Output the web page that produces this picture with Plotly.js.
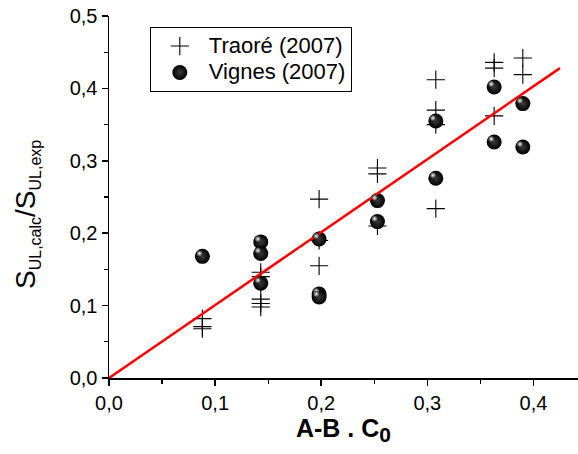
<!DOCTYPE html>
<html>
<head>
<meta charset="utf-8">
<script src="https://cdn.plot.ly/plotly-3.0.1.min.js"></script>
<style>html,body{margin:0;padding:0;background:#fff;}#chart{width:578px;height:454px;}</style>
</head>
<body>
<div id="chart"></div>
<script>
const traoreX = [0.088,0.088,0.088, 0.143,0.143,0.143,0.143,0.143, 0.198,0.198,0.198, 0.253,0.253,0.253, 0.308,0.308,0.308,0.308, 0.363,0.363,0.363, 0.39,0.39];
const traoreY = [0.082,0.071,0.068, 0.146,0.140,0.109,0.103,0.098, 0.247,0.190,0.155, 0.290,0.282,0.210, 0.412,0.370,0.350,0.234, 0.436,0.428,0.362, 0.442,0.419];
const vignesX = [0.088, 0.143,0.143,0.143, 0.198,0.198,0.198, 0.253,0.253, 0.308,0.308, 0.363,0.363, 0.39,0.39];
const vignesY = [0.168, 0.188,0.172,0.131, 0.192,0.116,0.112, 0.245,0.216, 0.355,0.276, 0.402,0.326, 0.379,0.319];
const fitX = [0, 0.425];
const fitY = [0, 0.428];
const tickVals = [0, 0.1, 0.2, 0.3, 0.4, 0.5];
const tickText = ['0,0','0,1','0,2','0,3','0,4','0,5'];
const seriesNames = ['Traoré (2007)', 'Vignes (2007)'];

const FONT = 'Arial, "Liberation Sans", sans-serif';
const X_RANGE = [0, 0.442];
const Y_RANGE = [0, 0.5];
// highlight offset (a few pixels up-left) expressed in axis units
const HX = 0.0027, HY = 0.0040;
const big = t => '<span style="font-size:22px">' + t + '</span>';

const traces = [
  {
    x: traoreX, y: traoreY, type: 'scatter', mode: 'markers', name: big(seriesNames[0]),
    marker: {symbol: 'cross-thin-open', size: 13, color: '#000', line: {color: '#000', width: 1.1}}
  },
  {
    x: vignesX, y: vignesY, type: 'scatter', mode: 'markers', name: big(seriesNames[1]),
    marker: {symbol: 'circle', size: 15, color: '#000', gradient: {type: 'radial', color: '#3a3a3a'}, line: {width: 0}}
  },
  {
    x: vignesX, y: vignesY, type: 'scatter', mode: 'markers', showlegend: false,
    xaxis: 'x2', yaxis: 'y2',
    marker: {symbol: 'circle', size: 6, color: '#333', gradient: {type: 'radial', color: '#f4f4f4'}, line: {width: 0}}
  },
  {
    x: fitX, y: fitY, type: 'scatter', mode: 'lines', showlegend: false,
    line: {color: '#ff0000', width: 2.5}
  }
];

const layout = {
  width: 578, height: 454,
  margin: {l: 109, r: 0, t: 16, b: 76},
  paper_bgcolor: '#fff', plot_bgcolor: '#fff',
  separators: ', ',
  font: {family: FONT, color: '#000', size: 20},
  showlegend: true,
  legend: {
    x: 0.087, y: 0.97, xanchor: 'left', yanchor: 'top',
    bgcolor: '#fff', bordercolor: '#000', borderwidth: 1,
    font: {family: FONT, size: 18, color: '#000'},
    itemwidth: 48, tracegroupgap: 0
  },
  xaxis: {
    range: X_RANGE, showgrid: false, zeroline: false,
    showline: true, linecolor: '#000', linewidth: 1.5,
    ticks: 'outside', ticklen: 6, tickwidth: 1.5, tickcolor: '#000',
    tickvals: tickVals.slice(0,5), ticktext: tickText.slice(0,5),
    tickfont: {family: FONT, size: 20},
    minor: {dtick: 0.05, ticklen: 4, tickwidth: 1.2, tickcolor: '#000', ticks: 'outside', showgrid: false},
    title: {text: '<b>A-B . C<sub><span style="font-size:21px">0</span></sub></b>', font: {family: FONT, size: 25}, standoff: 6},
    automargin: false
  },
  yaxis: {
    range: Y_RANGE, showgrid: false, zeroline: false,
    showline: true, linecolor: '#000', linewidth: 1.5,
    ticks: 'outside', ticklen: 6, tickwidth: 1.5, tickcolor: '#000',
    tickvals: tickVals, ticktext: tickText,
    tickfont: {family: FONT, size: 20},
    minor: {dtick: 0.05, ticklen: 4, tickwidth: 1.2, tickcolor: '#000', ticks: 'outside', showgrid: false},
    automargin: false
  },
  xaxis2: {overlaying: 'x', range: [X_RANGE[0] + HX, X_RANGE[1] + HX], visible: false, fixedrange: true},
  yaxis2: {overlaying: 'y', range: [Y_RANGE[0] - HY, Y_RANGE[1] - HY], visible: false, fixedrange: true},
  annotations: [{
    text: 'S<sub><span style="font-size:16px">UL,calc</span></sub>/S<sub><span style="font-size:16px">UL,exp</span></sub>',
    xref: 'paper', yref: 'paper', x: 0, y: 0.5, xanchor: 'center', yanchor: 'middle',
    xshift: -82, yshift: -18, textangle: -90, showarrow: false,
    font: {family: FONT, size: 28, color: '#000'}
  }]
};

Plotly.newPlot('chart', traces, layout, {staticPlot: true, displayModeBar: false});
</script>
</body>
</html>
